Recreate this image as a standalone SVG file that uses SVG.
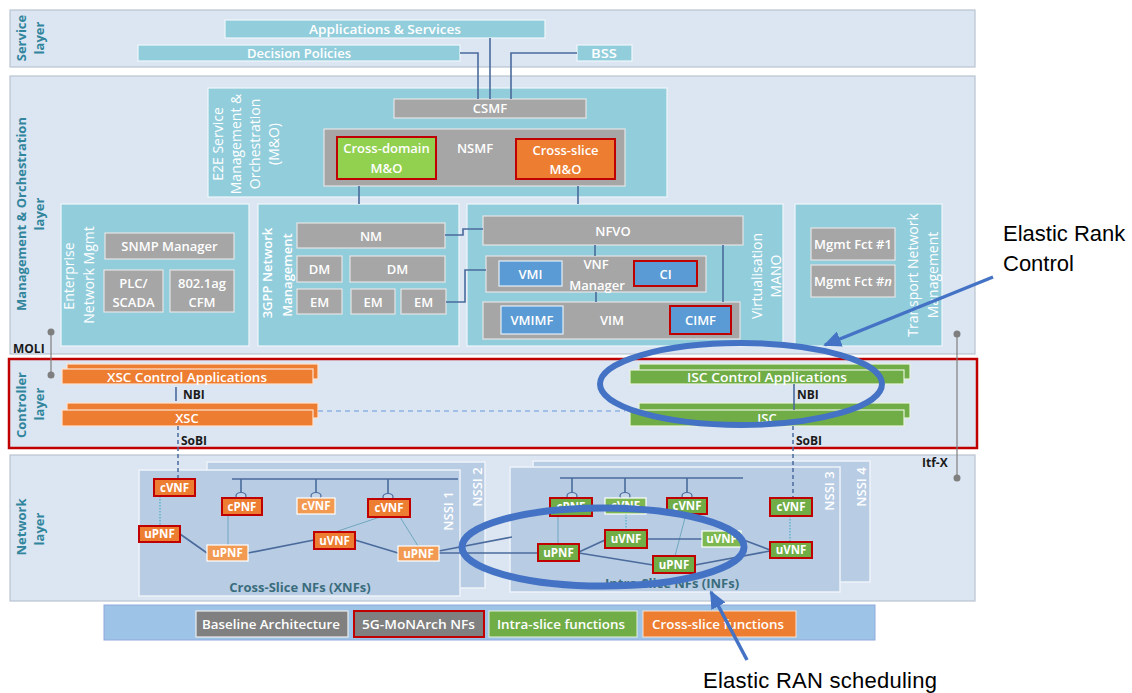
<svg xmlns="http://www.w3.org/2000/svg" width="1132" height="693" viewBox="0 0 1132 693">
<defs>
<style>
.layer{fill:#dce6f2;stroke:#b9c3cf;stroke-width:1.2}
.teal{fill:#92cddc;stroke:#eef7fa;stroke-width:1.2}
.gray{fill:#a6a6a6;stroke:#e4e4e4;stroke-width:1.2}
.dgray{fill:#808080;stroke:#eeeeee;stroke-width:1.2}
.blue{fill:#5b9bd5;stroke:#e3eef8;stroke-width:1.2}
.org{fill:#ed7d31;stroke:#fde3d0;stroke-width:1.2}
.lorg{fill:#f39a52;stroke:#ffffff;stroke-width:1.2}
.grn{fill:#70ad47;stroke:#e6f2dd;stroke-width:1.2}
.lgrn{fill:#7cb84f;stroke:#ffffff;stroke-width:1.2}
.red{stroke:#c00000;stroke-width:2}
.nssi{fill:#b8cce4;stroke:#eef3f9;stroke-width:1.5}
.lbl{font-family:"Open Sans","DejaVu Sans",sans-serif;font-weight:700;font-size:13px;fill:#31859c;text-anchor:middle}
.vl{font-family:"Open Sans",sans-serif;font-size:14px;fill:#fff;text-anchor:middle}
.vb{font-family:"Open Sans",sans-serif;font-weight:600;font-size:13px;fill:#fff;text-anchor:middle}
.t{font-family:"Open Sans",sans-serif;font-weight:600;font-size:13px;fill:#fff;text-anchor:middle}
.nf{font-family:"Open Sans",sans-serif;font-weight:700;font-size:11.5px;fill:#fff;text-anchor:middle}
.k{font-family:"Open Sans",sans-serif;font-weight:700;font-size:12px;fill:#1a1a1a}
.cap{font-family:"Open Sans",sans-serif;font-weight:700;font-size:13px;fill:#3a6d7c;text-anchor:middle}
.ln{fill:none;stroke:#4a6b9c;stroke-width:1.6}
.thin{fill:none;stroke:#6fa8bf;stroke-width:1}
.dot{fill:none;stroke:#4bacc6;stroke-width:1.2;stroke-dasharray:1.5 1.5}
.dash{fill:none;stroke:#4a6b9c;stroke-width:1.5;stroke-dasharray:4 3}
.lite{fill:none;stroke:#8db3e2;stroke-width:1.5;stroke-dasharray:5 4}
.ifc{fill:none;stroke:#7f7f7f;stroke-width:1.2}
.pin{fill:#7f7f7f}
.lolli{fill:#c5d5ea;stroke:#4a6b9c;stroke-width:1.2}
.ring{fill:none;stroke:#4472c4}
.pointer{fill:none;stroke:#4472c4;stroke-width:3.5}
.note{font-family:"Liberation Sans",Arial,sans-serif;font-size:22px;fill:#000}
</style>
<marker id="ah" markerUnits="userSpaceOnUse" markerWidth="18" markerHeight="16" viewBox="0 0 18 16" refX="16" refY="8" orient="auto">
<path d="M0,0 L18,8 L0,16 z" fill="#4472c4"/>
</marker>
</defs>

<!-- layers -->
<g id="service-layer">
<rect class="layer" x="10" y="10" width="965" height="57"/>
<text class="lbl" transform="translate(26,38) rotate(-90)">Service</text>
<text class="lbl" transform="translate(44,38) rotate(-90)">layer</text>
</g>
<g id="mo-layer">
<rect class="layer" x="10" y="76" width="965" height="278"/>
<text class="lbl" transform="translate(26,214) rotate(-90)">Management &amp; Orchestration</text>
<text class="lbl" transform="translate(44,214) rotate(-90)">layer</text>
</g>
<g id="controller-layer">
<rect x="9" y="359" width="968" height="89" fill="#dce6f2" stroke="#c00000" stroke-width="2.5"/>
<text class="lbl" transform="translate(26,405) rotate(-90)">Controller</text>
<text class="lbl" transform="translate(44,404) rotate(-90)">layer</text>
</g>
<g id="network-layer">
<rect class="layer" x="10" y="455" width="965" height="146"/>
<text class="lbl" transform="translate(26,527) rotate(-90)">Network</text>
<text class="lbl" transform="translate(44,529) rotate(-90)">layer</text>
</g>

<!-- service layer -->
<g id="apps-services"><rect class="teal" x="225" y="20" width="320" height="18"/><text class="t" x="385" y="33.5" textLength="152" lengthAdjust="spacingAndGlyphs">Applications &amp; Services</text></g>
<g id="decision-policies"><rect class="teal" x="138" y="45" width="322" height="16"/><text class="t" x="299" y="57.5" textLength="104" lengthAdjust="spacingAndGlyphs">Decision Policies</text></g>
<g id="bss"><rect class="teal" x="577" y="45" width="55" height="16"/><text class="t" x="604" y="57.5" textLength="26" lengthAdjust="spacingAndGlyphs">BSS</text></g>

<!-- E2E service management & orchestration -->
<g id="e2e-mo">
<rect class="teal" x="208" y="88" width="459" height="109"/>
<text class="vl" transform="translate(222.5,144) rotate(-90)">E2E Service</text>
<text class="vl" transform="translate(240.5,144) rotate(-90)">Management &amp;</text>
<text class="vl" transform="translate(259.5,144) rotate(-90)">Orchestration</text>
<text class="vl" transform="translate(278.5,144) rotate(-90)">(M&amp;O)</text>
</g>
<g id="csmf"><rect class="gray" x="394" y="99" width="192" height="19"/><text class="t" x="490" y="113">CSMF</text></g>
<g id="nsmf"><rect class="gray" x="324" y="129" width="301" height="57"/><text class="t" x="475" y="153">NSMF</text></g>
<g id="cross-domain-mo"><rect x="337" y="137" width="99" height="42" fill="#92d050" class="red"/><text class="t" x="386.5" y="153">Cross-domain</text><text class="t" x="386.5" y="172.5">M&amp;O</text></g>
<g id="cross-slice-mo"><rect x="516" y="139" width="99" height="40" fill="#ed7d31" class="red"/><text class="t" x="565.5" y="155">Cross-slice</text><text class="t" x="565.5" y="174">M&amp;O</text></g>

<!-- enterprise network management -->
<g id="enterprise-mgmt">
<rect class="teal" x="61" y="204" width="188" height="142"/>
<text class="vl" transform="translate(73.5,276) rotate(-90)">Enterprise</text>
<text class="vl" transform="translate(93.5,275) rotate(-90)">Network Mgmt</text>
</g>
<g id="snmp-manager"><rect class="gray" x="105" y="233" width="129" height="26"/><text class="t" x="169.5" y="250.5" font-size="14">SNMP Manager</text></g>
<g id="plc-scada"><rect class="gray" x="104" y="270" width="59" height="42"/><text class="t" x="133.5" y="288" font-size="14">PLC/</text><text class="t" x="133.5" y="307" font-size="14">SCADA</text></g>
<g id="cfm"><rect class="gray" x="170" y="270" width="64" height="42"/><text class="t" x="202" y="288" font-size="14">802.1ag</text><text class="t" x="202" y="307" font-size="14">CFM</text></g>

<!-- 3GPP network management -->
<g id="3gpp-mgmt">
<rect class="teal" x="258" y="204" width="201" height="142"/>
<text class="vb" transform="translate(272,273) rotate(-90)">3GPP Network</text>
<text class="vb" transform="translate(292,275) rotate(-90)">Management</text>
</g>
<g id="nm"><rect class="gray" x="297" y="223" width="148" height="25"/><text class="t" x="371" y="240.5" font-size="14">NM</text></g>
<g id="dm-1"><rect class="gray" x="297" y="256" width="45" height="26"/><text class="t" x="319.5" y="274" font-size="14">DM</text></g>
<g id="dm-2"><rect class="gray" x="350" y="256" width="95" height="26"/><text class="t" x="397.5" y="274" font-size="14">DM</text></g>
<g id="em-1"><rect class="gray" x="297" y="289" width="45" height="25"/><text class="t" x="319.5" y="306.5" font-size="14">EM</text></g>
<g id="em-2"><rect class="gray" x="351" y="289" width="44" height="25"/><text class="t" x="373" y="306.5" font-size="14">EM</text></g>
<g id="em-3"><rect class="gray" x="401" y="289" width="45" height="25"/><text class="t" x="423.5" y="306.5" font-size="14">EM</text></g>

<!-- virtualisation MANO -->
<g id="mano">
<rect class="teal" x="467" y="204" width="316" height="142"/>
<text class="vl" transform="translate(761.5,276) rotate(-90)">Virtualisation</text>
<text class="vl" transform="translate(780.5,276) rotate(-90)">MANO</text>
</g>
<g id="nfvo"><rect class="gray" x="483" y="216" width="260" height="29"/><text class="t" x="613" y="235.5" font-size="14">NFVO</text></g>
<g id="vnf-manager"><rect class="gray" x="486" y="256" width="220" height="36"/><text class="t" x="596" y="269" font-size="14">VNF</text><text class="t" x="597" y="290" font-size="14">Manager</text></g>
<g id="vmi"><rect class="blue" x="499" y="261" width="63" height="25"/><text class="t" x="530.5" y="278.5" font-size="14">VMI</text></g>
<g id="ci"><rect x="634" y="261" width="63" height="25" fill="#5b9bd5" class="red"/><text class="t" x="665.5" y="278.5" font-size="14">CI</text></g>
<g id="vim"><rect class="gray" x="483" y="302" width="257" height="37"/><text class="t" x="612" y="325" font-size="14">VIM</text></g>
<g id="vmimf"><rect class="blue" x="501" y="306" width="62" height="28"/><text class="t" x="532" y="325" font-size="14">VMIMF</text></g>
<g id="cimf"><rect x="670" y="306" width="61" height="28" fill="#5b9bd5" class="red"/><text class="t" x="700.5" y="325" font-size="14">CIMF</text></g>

<!-- transport network management -->
<g id="transport-mgmt">
<rect class="teal" x="795" y="204" width="147" height="142"/>
<text class="vl" transform="translate(918,275) rotate(-90)">Transport Network</text>
<text class="vl" transform="translate(938,275) rotate(-90)">Management</text>
</g>
<g id="mgmt-fct-1"><rect class="gray" x="811" y="228" width="84" height="32"/><text class="t" x="853" y="249" font-size="14">Mgmt Fct #1</text></g>
<g id="mgmt-fct-n"><rect class="gray" x="811" y="265" width="84" height="32"/><text class="t" x="853" y="286" font-size="14">Mgmt Fct #<tspan font-style="italic">n</tspan></text></g>

<!-- controller layer -->
<g id="xsc-control-apps">
<rect class="org" x="67" y="364" width="251" height="15"/>
<rect class="org" x="62" y="369" width="251" height="15"/>
<text class="t" x="187" y="381.5" textLength="160" lengthAdjust="spacingAndGlyphs">XSC Control Applications</text>
</g>
<g id="xsc">
<rect class="org" x="67" y="403" width="251" height="15"/>
<rect class="org" x="62" y="410" width="251" height="16"/>
<text class="t" x="187" y="423">XSC</text>
</g>
<g id="isc-control-apps">
<rect class="grn" x="639" y="364" width="271" height="15"/>
<rect class="grn" x="630" y="370" width="274" height="14"/>
<text class="t" x="767" y="381.5" textLength="160" lengthAdjust="spacingAndGlyphs">ISC Control Applications</text>
</g>
<g id="isc">
<rect class="grn" x="639" y="403" width="271" height="15"/>
<rect class="grn" x="630" y="410" width="274" height="16"/>
<text class="t" x="767" y="423">ISC</text>
</g>

<!-- network slice subnet instances -->
<g id="nssi-2"><rect class="nssi" x="207" y="462" width="278" height="126"/><text class="vb" transform="translate(481.5,487) rotate(-90)">NSSI 2</text></g>
<g id="nssi-1"><rect class="nssi" x="139" y="470" width="321" height="126"/><text class="vb" transform="translate(452.5,511) rotate(-90)">NSSI 1</text><text class="cap" x="300" y="592">Cross-Slice NFs (XNFs)</text></g>
<g id="nssi-4"><rect class="nssi" x="533" y="461" width="337" height="121"/><text class="vb" transform="translate(865.5,487) rotate(-90)">NSSI 4</text></g>
<g id="nssi-3"><rect class="nssi" x="510" y="467" width="330" height="125"/><text class="vb" transform="translate(833.5,491) rotate(-90)">NSSI 3</text><text class="cap" x="672" y="588">Intra-Slice NFs (INFs)</text></g>

<!-- connectors -->
<g id="connectors">
<path class="ln" d="M460,53 H478 V99"/>
<path class="ln" d="M490,38 V99"/>
<path class="ln" d="M577,53 H511 V99"/>
<path class="ln" d="M359,186 V204"/>
<path class="ln" d="M578,186 V204"/>
<path class="ln" d="M445,235 H463 V229 H483"/>
<path class="ln" d="M446,302 H465 V270 H486"/>
<path class="ln" d="M595,245 V256"/>
<path class="ln" d="M596,292 V302"/>
<path class="ln" d="M723,245 V302"/>
<path class="ifc" d="M51,332 V375"/>
<circle class="pin" cx="51" cy="332" r="3.5"/>
<circle class="pin" cx="51" cy="375" r="3.5"/>
<path class="ifc" d="M957,334 V478"/>
<circle class="pin" cx="957" cy="334" r="3.5"/>
<circle class="pin" cx="957" cy="478" r="3.5"/>
<path class="ln" d="M176,387 V401"/>
<path class="dash" d="M178,426 V479"/>
<path class="ln" d="M794,384 V410"/>
<path class="dash" d="M793,426 V498"/>
<path class="lite" d="M318,411 H625"/>
<!-- cross-slice NF links -->
<path class="ln" stroke-width="2" d="M232,479 H458"/>
<path class="ln" d="M241,479 V494 M316,479 V494 M388,479 V495"/>
<path class="dot" d="M160,496 V526"/>
<path class="thin" d="M228,515 V545"/>
<path class="thin" d="M380,517 L335,532"/>
<path class="thin" d="M400,517 L418,546"/>
<path class="ln" d="M180,534 L207,553"/>
<path class="ln" d="M248,553 L314,540"/>
<path class="ln" d="M355,540 L398,553"/>
<path class="ln" d="M439,553 H538"/>
<path class="ln" d="M439,551 L512,537"/>
<!-- intra-slice NF links -->
<path class="ln" stroke-width="2" d="M560,478 H743"/>
<path class="ln" d="M572,478 V494 M625,478 V494 M687,478 V494"/>
<path class="thin" d="M558,516 V544"/>
<path class="dot" d="M626,514 V530"/>
<path class="thin" d="M686,514 L675,556"/>
<path class="dot" d="M790,516 V542"/>
<path class="ln" d="M579,552 L605,540"/>
<path class="ln" d="M647,539 H702"/>
<path class="ln" d="M579,553 L653,565"/>
<path class="ln" d="M695,565 L770,551"/>
<path class="ln" d="M741,539 L770,550"/>
<ellipse class="lolli" cx="241" cy="496" rx="5" ry="3.5"/>
<ellipse class="lolli" cx="316" cy="496" rx="5" ry="3.5"/>
<ellipse class="lolli" cx="388" cy="497" rx="5" ry="3.5"/>
<ellipse class="lolli" cx="572" cy="496" rx="5" ry="3.5"/>
<ellipse class="lolli" cx="625" cy="496" rx="5" ry="3.5"/>
<ellipse class="lolli" cx="687" cy="496" rx="5" ry="3.5"/>
</g>

<!-- cross-slice network functions -->
<g id="x-cvnf-1"><rect class="org red" x="154" y="479" width="41" height="17"/><text class="nf" x="174.5" y="491.5">cVNF</text></g>
<g id="x-cpnf"><rect class="org red" x="222" y="498" width="40" height="17"/><text class="nf" x="242" y="510.5">cPNF</text></g>
<g id="x-cvnf-2"><rect class="lorg" x="297" y="498" width="38" height="16"/><text class="nf" x="316" y="510">cVNF</text></g>
<g id="x-cvnf-3"><rect class="org red" x="368" y="499" width="42" height="18"/><text class="nf" x="389" y="512">cVNF</text></g>
<g id="x-upnf-1"><rect class="org red" x="139" y="526" width="41" height="16"/><text class="nf" x="159.5" y="538">uPNF</text></g>
<g id="x-upnf-2"><rect class="lorg" x="207" y="545" width="41" height="16"/><text class="nf" x="227.5" y="557">uPNF</text></g>
<g id="x-uvnf"><rect class="org red" x="314" y="532" width="41" height="17"/><text class="nf" x="334.5" y="544.5">uVNF</text></g>
<g id="x-upnf-3"><rect class="lorg" x="398" y="546" width="41" height="15"/><text class="nf" x="418.5" y="557.5">uPNF</text></g>

<!-- intra-slice network functions -->
<g id="i-cpnf"><rect class="grn red" x="550" y="498" width="42" height="18"/><text class="nf" x="571" y="511">cPNF</text></g>
<g id="i-cvnf-1"><rect class="lgrn" x="605" y="498" width="41" height="16"/><text class="nf" x="625.5" y="510">cVNF</text></g>
<g id="i-cvnf-2"><rect class="grn red" x="667" y="498" width="40" height="16"/><text class="nf" x="687" y="510">cVNF</text></g>
<g id="i-cvnf-3"><rect class="grn red" x="770" y="498" width="42" height="18"/><text class="nf" x="791" y="511">cVNF</text></g>
<g id="i-uvnf-1"><rect class="grn red" x="605" y="530" width="42" height="18"/><text class="nf" x="626" y="543">uVNF</text></g>
<g id="i-uvnf-2"><rect class="lgrn" x="702" y="531" width="39" height="16"/><text class="nf" x="721.5" y="543">uVNF</text></g>
<g id="i-upnf-1"><rect class="grn red" x="538" y="544" width="41" height="17"/><text class="nf" x="558.5" y="556.5">uPNF</text></g>
<g id="i-upnf-2"><rect class="grn red" x="653" y="556" width="42" height="17"/><text class="nf" x="674" y="568.5">uPNF</text></g>
<g id="i-uvnf-3"><rect class="grn red" x="770" y="542" width="42" height="16"/><text class="nf" x="791" y="554">uVNF</text></g>

<!-- interface labels -->
<g id="interface-labels">
<text class="k" x="13" y="353">MOLI</text>
<text class="k" x="183" y="399">NBI</text>
<text class="k" x="181" y="445">SoBI</text>
<text class="k" x="797" y="399">NBI</text>
<text class="k" x="796" y="445">SoBI</text>
<text class="k" x="922" y="467">Itf-X</text>
</g>

<!-- legend -->
<g id="legend">
<rect x="104" y="605" width="771" height="35" fill="#9dc3e6" stroke="#8faadc" stroke-width="1"/>
<rect class="dgray" x="196" y="611" width="152" height="26"/>
<text class="t" x="271" y="628.5" textLength="138" lengthAdjust="spacingAndGlyphs">Baseline Architecture</text>
<rect x="354" y="611" width="130" height="26" fill="#808080" class="red"/>
<text class="t" x="418.5" y="628.5" textLength="113" lengthAdjust="spacingAndGlyphs">5G-MoNArch NFs</text>
<rect x="489" y="611" width="148" height="26" fill="#70ad47" stroke="#e6f2dd"/>
<text class="t" x="561" y="628.5" textLength="128" lengthAdjust="spacingAndGlyphs">Intra-slice functions</text>
<rect x="643" y="611" width="153" height="26" fill="#ed7d31" stroke="#fde3d0"/>
<text class="t" x="718" y="628.5" textLength="132" lengthAdjust="spacingAndGlyphs">Cross-slice functions</text>
</g>

<!-- highlights and notes -->
<g id="highlights">
<ellipse class="ring" stroke-width="6" cx="741" cy="384" rx="141" ry="41"/>
<ellipse class="ring" stroke-width="7" cx="603" cy="547" rx="141" ry="39"/>
<path class="pointer" d="M993,277 L825,345" marker-end="url(#ah)"/>
<path class="pointer" d="M747,660 L711,592" marker-end="url(#ah)"/>
<text class="note" x="1003" y="241">Elastic Rank</text>
<text class="note" x="1003" y="271">Control</text>
<text class="note" x="703" y="688" textLength="234">Elastic RAN scheduling</text>
</g>
</svg>
